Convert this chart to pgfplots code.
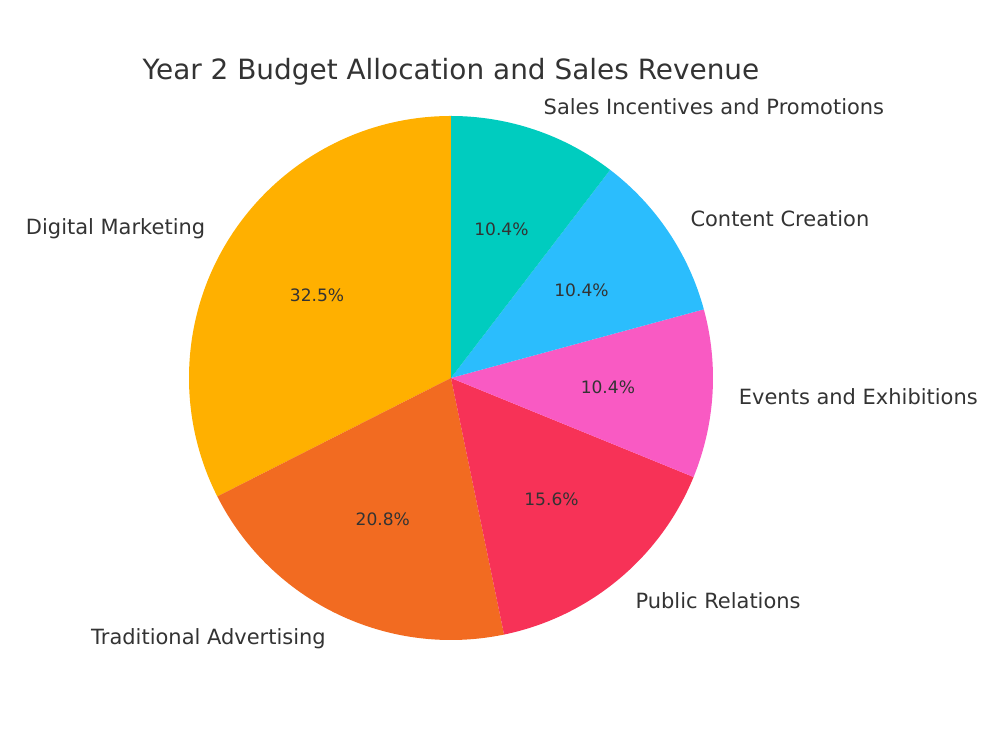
\documentclass[border=0pt]{standalone}
\usepackage{pgfplots}
\pgfplotsset{compat=1.18}
\usepackage{pgfplotstable}
\usepackage{fontspec}
\setmainfont{DejaVu Sans}

\definecolor{cDM}{HTML}{FFB000}
\definecolor{cTA}{HTML}{F26B21}
\definecolor{cPR}{HTML}{F73257}
\definecolor{cEE}{HTML}{F95AC3}
\definecolor{cCC}{HTML}{2BBDFD}
\definecolor{cSI}{HTML}{00CCBF}
\definecolor{txt}{HTML}{333333}

% Year 2 budget (thousands), drawn counter-clockwise from the top
\pgfplotstableread[col sep=comma]{
label,value,color
Digital Marketing,25,cDM
Traditional Advertising,16,cTA
Public Relations,12,cPR
Events and Exhibitions,8,cEE
Content Creation,8,cCC
Sales Incentives and Promotions,8,cSI
}\budget

\newcommand\labelfont{\fontsize{15.1}{18}\selectfont}
\newcommand\pctfont{\fontsize{12.3}{15}\selectfont}

\begin{document}
\begin{tikzpicture}
\path[use as bounding box] (0,0) rectangle (720pt,540pt);
\begin{axis}[
  at={(0,0)}, anchor=south west,
  x=0.72pt, y=0.72pt,
  xmin=0, xmax=1000, ymin=0, ymax=750,
  hide axis, clip=false,
]
\def\cx{451}\def\cy{372}\def\R{262}
\pgfmathsetmacro\Rpt{\R*0.72}
% total of all slices
\def\total{0}
\pgfplotsforeachungrouped \i in {0,...,5}{%
  \pgfplotstablegetelem{\i}{value}\of\budget
  \pgfmathsetmacro\total{\total+\pgfplotsretval}%
}
\def\start{90}
\pgfplotsforeachungrouped \i in {0,...,5}{%
  \pgfplotstablegetelem{\i}{value}\of\budget \let\v\pgfplotsretval
  \pgfplotstablegetelem{\i}{color}\of\budget \let\col\pgfplotsretval
  \pgfplotstablegetelem{\i}{label}\of\budget \let\lab\pgfplotsretval
  \pgfmathsetmacro\sweep{360*\v/\total}%
  \pgfmathsetmacro\stop{\start+\sweep}%
  \pgfmathsetmacro\mid{\start+\sweep/2}%
  \pgfmathsetmacro\pct{100*\v/\total}%
  \pgfmathsetmacro\lx{\cx+1.1*\R*cos(\mid)}%
  \pgfmathsetmacro\ly{\cy+1.1*\R*sin(\mid)-1.5}%
  \pgfmathsetmacro\px{\cx+0.6*\R*cos(\mid)}%
  \pgfmathsetmacro\py{\cy+0.6*\R*sin(\mid)}%
  \pgfmathparse{cos(\mid)<0 ? 1 : 0}%
  \ifdim\pgfmathresult pt>0.5pt \def\anc{east}\else \def\anc{west}\fi
  \edef\slice{\noexpand\fill[\col] (axis cs:\cx,\cy) -- ++(\start:\Rpt pt)
     arc[start angle=\start, end angle=\stop, radius=\Rpt pt] -- cycle;
     \noexpand\node[anchor=\anc, inner sep=0pt, text=txt, font=\noexpand\labelfont]
       at (axis cs:\lx,\ly) {\lab};
     \noexpand\node[inner sep=0pt, text=txt, font=\noexpand\pctfont]
       at (axis cs:\px,\py) {\noexpand\pgfmathprintnumber[fixed,precision=1,fixed zerofill,assume math mode=true]{\pct}\noexpand\%};}%
  \slice
  \let\start\stop
}
\node[text=txt, inner sep=0pt, font=\fontsize{20.1}{24}\selectfont]
  at (axis cs:451,678.5) {Year 2 Budget Allocation and Sales Revenue};
\end{axis}
\end{tikzpicture}
\end{document}
